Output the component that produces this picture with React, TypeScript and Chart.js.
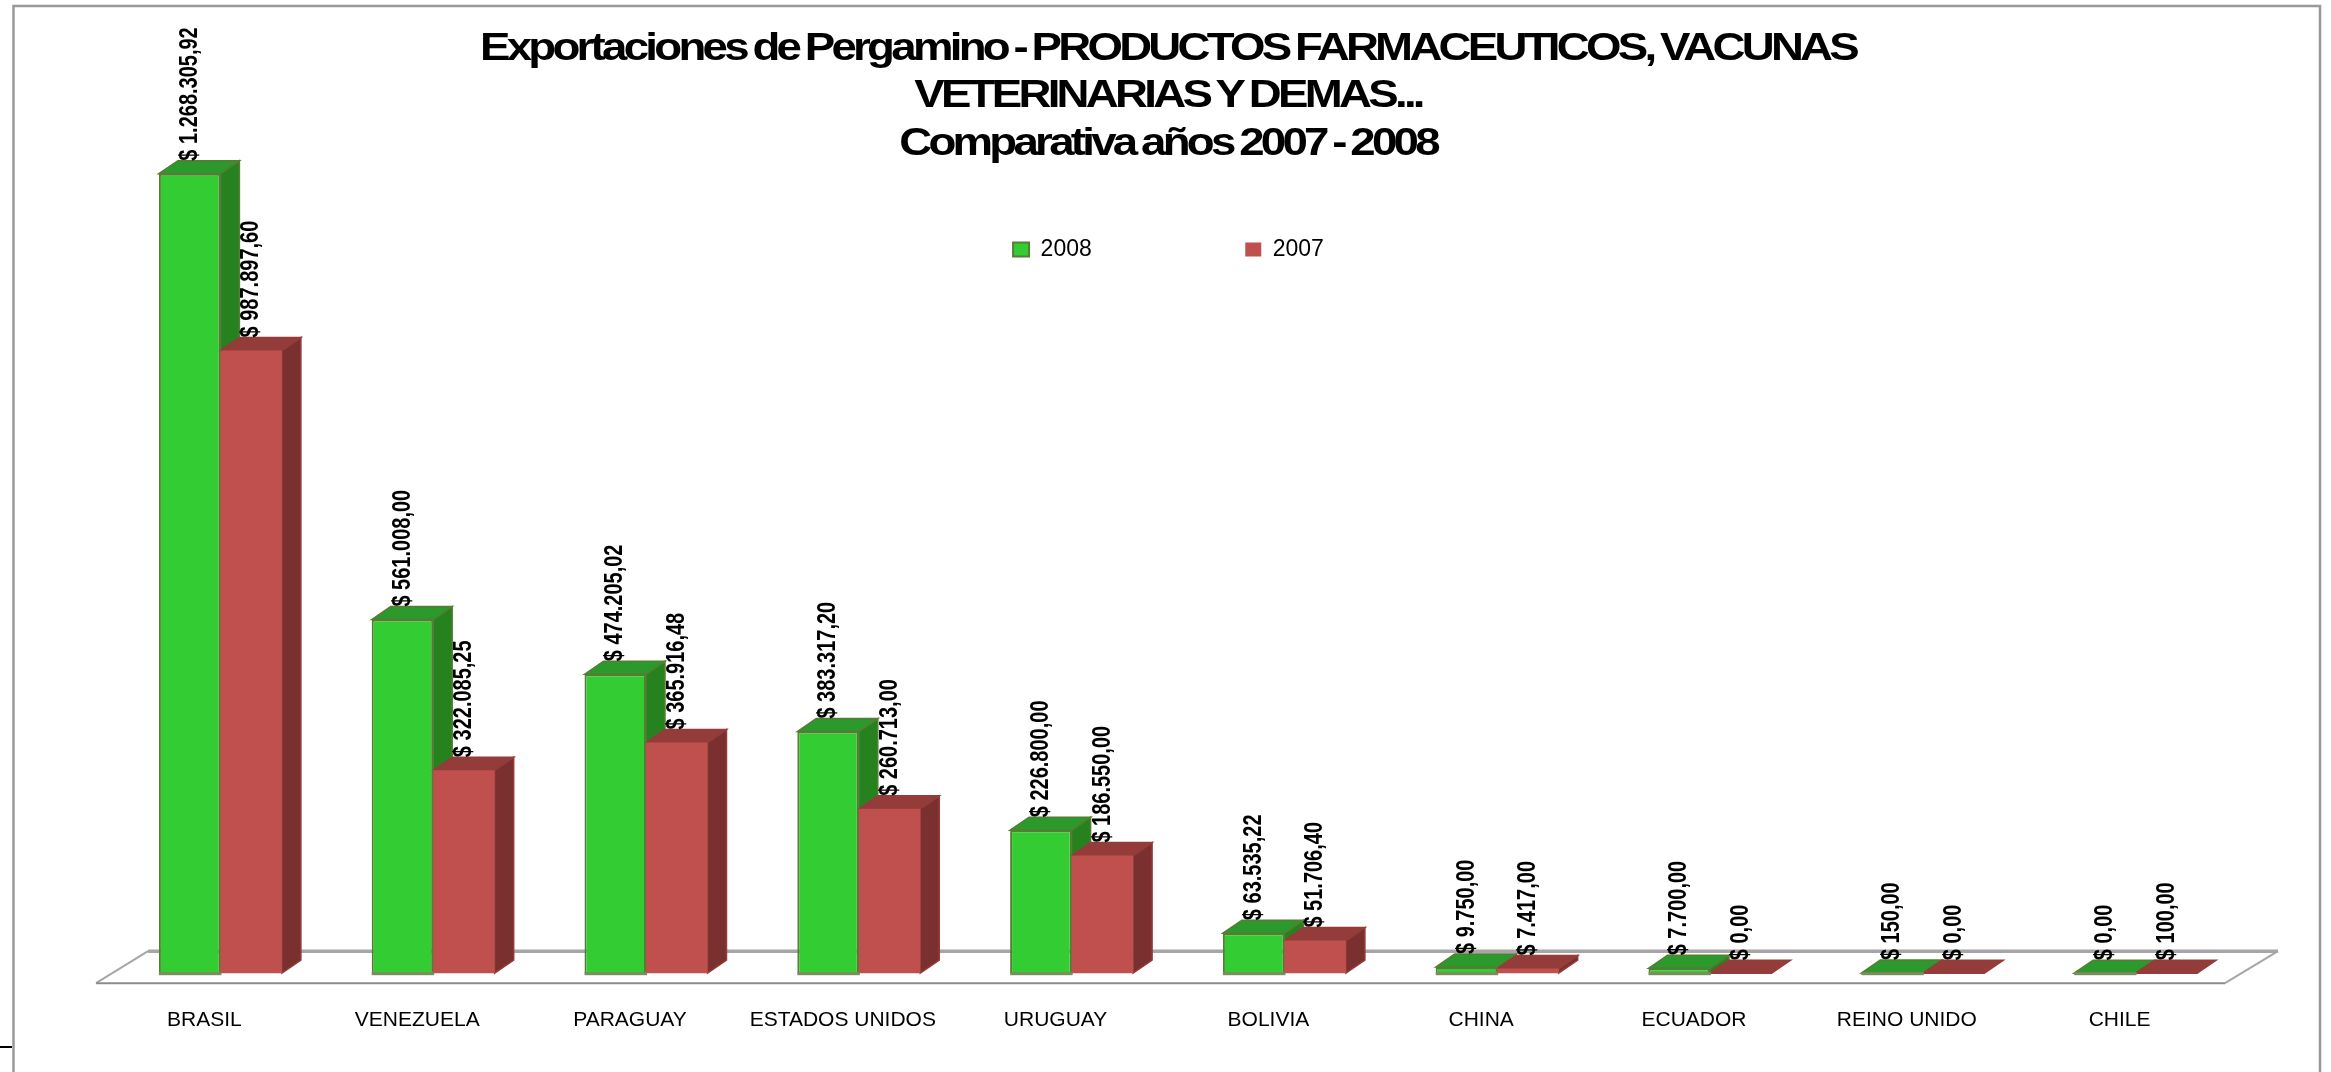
import React, { useEffect, useRef } from "react";
import { Chart, registerables } from "chart.js";

Chart.register(...registerables);

const FONT = "'Liberation Sans', Arial, sans-serif";

const titleLines = [
  "Exportaciones de Pergamino - PRODUCTOS FARMACEUTICOS, VACUNAS",
  "VETERINARIAS Y DEMAS...",
  "Comparativa años 2007 - 2008",
];
const categories = [
  "BRASIL", "VENEZUELA", "PARAGUAY", "ESTADOS UNIDOS", "URUGUAY",
  "BOLIVIA", "CHINA", "ECUADOR", "REINO UNIDO", "CHILE",
];
const values2008 = [1268305.92, 561008, 474205.02, 383317.2, 226800, 63535.22, 9750, 7700, 150, 0];
const values2007 = [987897.6, 322085.25, 365916.48, 260713, 186550, 51706.4, 7417, 0, 0, 100];

const faces = [
  { front: "#33CC33", border: "#567D33", top: "#2B992B", side: "#26821F", edge: "#567D33", base: "#7C8C5E" },
  { front: "#C0504D", border: "#C0504D", top: "#933C3A", side: "#7A302E", edge: "#933C3A", base: "" },
];

const DEPTH_X = 19;
const DEPTH_Y = 13;

const money = (v: number) =>
  "$ " + v.toLocaleString("es-AR", { minimumFractionDigits: 2, maximumFractionDigits: 2 });

function poly(ctx: CanvasRenderingContext2D, pts: number[][], fill: string, stroke?: string) {
  ctx.beginPath();
  pts.forEach(([x, y], i) => (i ? ctx.lineTo(x, y) : ctx.moveTo(x, y)));
  ctx.closePath();
  ctx.fillStyle = fill;
  ctx.fill();
  if (stroke) {
    ctx.strokeStyle = stroke;
    ctx.lineWidth = 1.5;
    ctx.stroke();
  }
}

const framePlugin = {
  id: "frame",
  beforeDatasetsDraw(chart: any) {
    const { ctx, chartArea: a } = chart;
    const base = chart.scales.y.getPixelForValue(0);
    ctx.save();
    // page frame
    ctx.strokeStyle = "#999999";
    ctx.lineWidth = 2.5;
    ctx.beginPath();
    ctx.moveTo(13.5, chart.height);
    ctx.lineTo(13.5, 6);
    ctx.lineTo(2320, 6);
    ctx.lineTo(2320, chart.height);
    ctx.stroke();
    ctx.strokeStyle = "#000000";
    ctx.lineWidth = 2;
    ctx.beginPath();
    ctx.moveTo(0, 1047);
    ctx.lineTo(12, 1047);
    ctx.stroke();
    // floor
    const fl = a.left - 18, fr = a.right - 17, bl = a.left + 34, br = a.right + 36;
    const fy = base + 10, by = base - 22;
    ctx.strokeStyle = "#A6A6A6";
    ctx.lineWidth = 3.5;
    ctx.beginPath();
    ctx.moveTo(bl, by);
    ctx.lineTo(br, by);
    ctx.stroke();
    ctx.lineWidth = 2;
    ctx.beginPath();
    ctx.moveTo(fl, fy);
    ctx.lineTo(bl, by);
    ctx.moveTo(fr, fy);
    ctx.lineTo(br, by);
    ctx.stroke();
    ctx.strokeStyle = "#8C8C8C";
    ctx.beginPath();
    ctx.moveTo(fl, fy);
    ctx.lineTo(fr, fy);
    ctx.stroke();
    // side and top faces of every bar, green behind red; the fronts come after
    [0, 1].forEach((i) => {
      const f = faces[i];
      chart.getDatasetMeta(i).data.forEach((bar: any) => {
        const { x, y, base: b, width } = bar.getProps(["x", "y", "base", "width"], true);
        const l = x - width / 2, r = x + width / 2;
        if (b - y > 1) {
          poly(ctx, [[r, y], [r + DEPTH_X, y - DEPTH_Y], [r + DEPTH_X, b - DEPTH_Y], [r, b]], f.side, f.edge);
        }
        poly(ctx, [[l, y], [l + DEPTH_X, y - DEPTH_Y], [r + DEPTH_X, y - DEPTH_Y], [r, y]], f.top, f.edge);
      });
    });
    ctx.restore();
  },
  afterDatasetsDraw(chart: any) {
    const { ctx } = chart;
    ctx.save();
    // green footing strip
    chart.getDatasetMeta(0).data.forEach((bar: any) => {
      const { x, base, width } = bar.getProps(["x", "base", "width"], true);
      ctx.fillStyle = faces[0].base;
      ctx.fillRect(x - width / 2, base - 1, width + 1, 3);
    });
    // vertical value labels
    ctx.fillStyle = "#000000";
    ctx.font = `bold 20px ${FONT}`;
    ctx.textAlign = "left";
    ctx.textBaseline = "middle";
    chart.data.datasets.forEach((ds: any, i: number) => {
      chart.getDatasetMeta(i).data.forEach((bar: any, j: number) => {
        const { x, y } = bar.getProps(["x", "y"], true);
        ctx.save();
        ctx.translate(x, y - DEPTH_Y);
        ctx.rotate(-Math.PI / 2);
        ctx.scale(1, 1.3);
        ctx.fillText(money(ds.data[j]), 0, 0);
        ctx.restore();
      });
    });
    ctx.restore();
  },
  beforeLayout(chart: any) {
    const l = chart.legend;
    if (l && !l.__patched) {
      l.__patched = true;
      const fit = l.fit;
      l.fit = function () {
        fit.call(l);
        l.height = 0;
      };
    }
    const t = chart.titleBlock;
    if (t && !t.__patched) {
      t.__patched = true;
      const draw = t.draw;
      t.draw = function () {
        const ctx = chart.ctx;
        const cx = 1168;
        ctx.save();
        ctx.letterSpacing = "-3.1px";
        ctx.wordSpacing = "-2px";
        ctx.translate(cx, 0);
        ctx.scale(1.2, 1);
        ctx.translate(-cx, 0);
        draw.call(t);
        ctx.restore();
      };
    }
  },
  afterLayout(chart: any) {
    const l = chart.legend;
    l.top = 84.5;
    l.bottom = 400;
    l.left -= 9.5;
    l.right -= 9.5;
    const t = chart.titleBlock;
    t.left -= 10;
    t.right -= 10;
  },
};

export default function App() {
  const ref = useRef<HTMLCanvasElement>(null);
  useEffect(() => {
    const chart = new Chart(ref.current as HTMLCanvasElement, {
      type: "bar",
      data: {
        labels: categories,
        datasets: [
          {
            label: "2008",
            data: values2008,
            backgroundColor: faces[0].front,
            borderColor: faces[0].border,
            borderWidth: 2,
            clip: false,
          },
          {
            label: "2007",
            data: values2007,
            backgroundColor: faces[1].front,
            borderColor: faces[1].border,
            borderWidth: 0,
            clip: false,
          },
        ],
      } as any,
      plugins: [framePlugin as any],
      options: {
        animation: false,
        responsive: false,
        layout: { padding: { left: 114, right: 89, top: 0, bottom: 13.6 } },
        datasets: { bar: { barPercentage: 1, categoryPercentage: 0.578 } },
        scales: {
          x: {
            grid: { display: false },
            border: { display: false },
            ticks: {
              color: "#000000",
              font: { family: FONT, size: 21 },
              padding: 26,
              labelOffset: -16,
              maxRotation: 0,
              minRotation: 0,
              autoSkip: false,
            },
          },
          y: { display: false, min: 0, max: 1275000 },
        },
        plugins: {
          tooltip: { enabled: false },
          title: {
            display: true,
            text: titleLines,
            color: "#000000",
            font: { family: FONT, size: 38, weight: "bold", lineHeight: 1.25 },
            padding: { top: 25.5, bottom: 1.5 },
          },
          legend: {
            display: true,
            position: "top",
            labels: {
              color: "#000000",
              font: { family: FONT, size: 23 },
              boxWidth: 16,
              boxHeight: 14,
              padding: 153.5,
            },
          },
        },
      } as any,
    });
    return () => chart.destroy();
  }, []);
  return (
    <canvas
      ref={ref}
      width={2331}
      height={1072}
      style={{ position: "absolute", left: 0, top: 0, width: 2331, height: 1072 }}
    />
  );
}
